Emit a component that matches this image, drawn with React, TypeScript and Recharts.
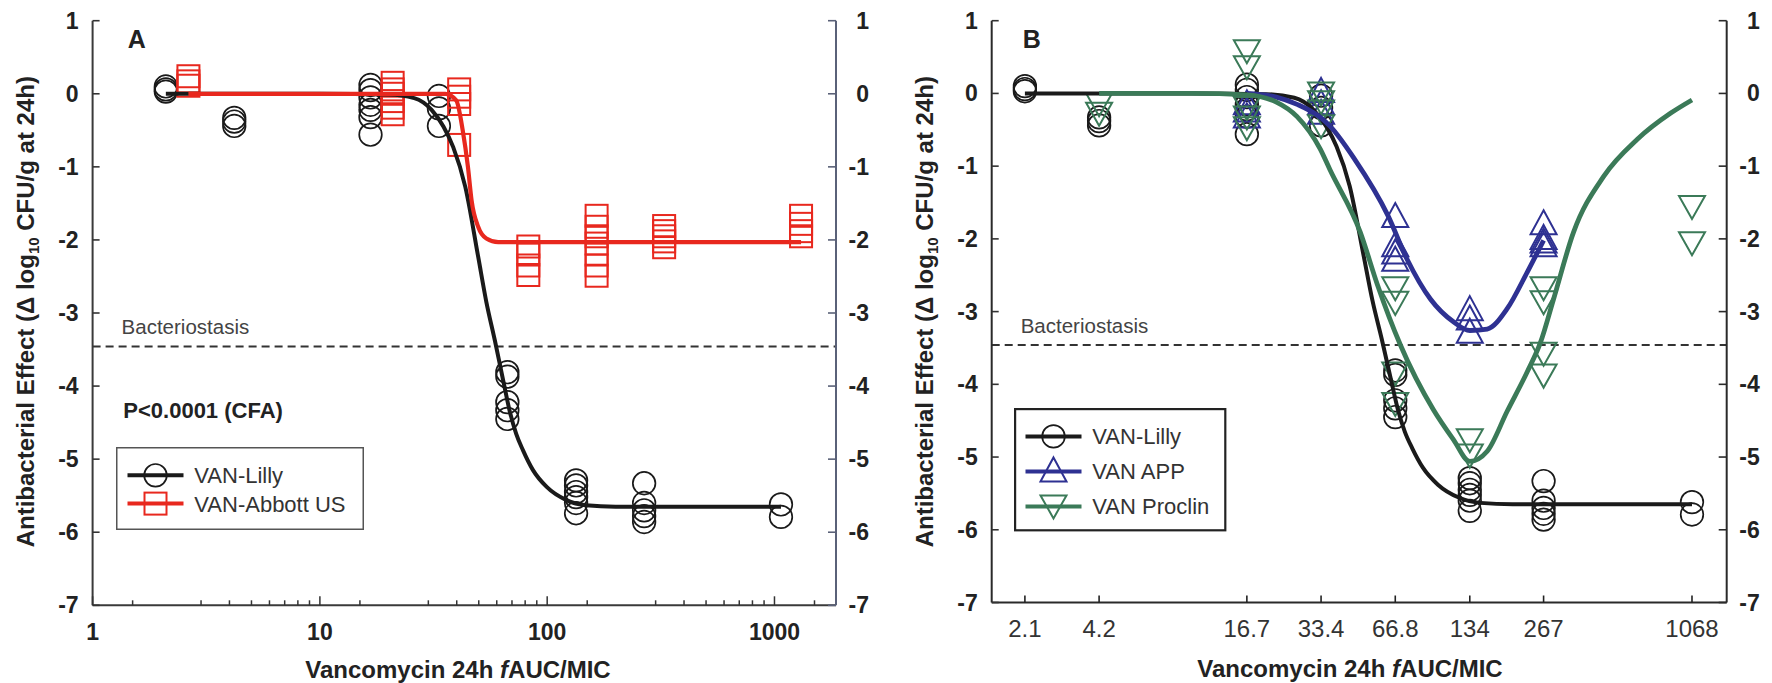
import React from 'react';
import { ComposedChart, Scatter, XAxis, YAxis, ReferenceLine, Legend } from 'recharts';

const FONT = '"Liberation Sans", Arial, Helvetica, sans-serif';

// ---------- Panel A data ----------
const lillyDoses = [2.1, 4.2, 16.7, 33.4, 66.8, 134, 267, 1068];
const lillyEffects = [
  [0.1, 0.06, 0.03],
  [-0.33, -0.38, -0.44],
  [0.12, 0.05, -0.05, -0.15, -0.22, -0.32, -0.56],
  [-0.03, -0.2, -0.44],
  [-3.81, -3.87, -4.22, -4.33, -4.45],
  [-5.29, -5.36, -5.45, -5.52, -5.6, -5.74],
  [-5.33, -5.6, -5.7, -5.78, -5.86],
  [-5.62, -5.79],
];
const abbottDoses = [2.64, 20.9, 41, 82.6, 165, 327, 1309];
const abbottEffects = [
  [0.24, 0.17, 0.11],
  [0.15, 0.06, 0.0, -0.1, -0.19, -0.28],
  [0.06, -0.04, -0.14, -0.7],
  [-2.09, -2.2, -2.35, -2.48],
  [-1.67, -1.82, -1.95, -2.05, -2.2, -2.35, -2.49],
  [-1.81, -1.88, -1.95, -2.02, -2.1],
  [-1.67, -1.78, -1.88, -1.95],
];
const lillyFitX = [2.1, 10, 20, 26, 31, 35, 38.6, 43.6, 49.7, 54, 58.9, 64, 68.5, 73, 78.3, 86.6, 99.5, 121.5, 148, 200, 400, 1068];
const lillyFitY = [0, 0, -0.01, -0.06, -0.22, -0.45, -0.73, -1.27, -2.23, -2.85, -3.38, -3.92, -4.35, -4.65, -4.88, -5.15, -5.38, -5.56, -5.63, -5.65, -5.65, -5.65];
const abbottFitX = [2.64, 20, 35.6, 39.8, 42.5, 44.8, 46.5, 49.7, 54, 60.9, 100, 1309];
const abbottFitY = [0, 0, 0, -0.09, -0.5, -1.0, -1.46, -1.82, -1.98, -2.03, -2.03, -2.03];

// ---------- Panel B data ----------
const appDoses = [16.7, 33.4, 66.8, 134, 267];
const appEffects = [
  [-0.15, -0.25, -0.33],
  [0.02, -0.15, -0.28],
  [-1.7, -2.1, -2.2, -2.3],
  [-2.98, -3.11, -3.29],
  [-1.8, -2.0, -2.05, -2.1],
];
const proclinDoses = [4.2, 16.7, 33.4, 66.8, 134, 267, 1068];
const proclinEffects = [
  [-0.15, -0.28],
  [0.58, 0.36, -0.2, -0.33, -0.48],
  [0.0, -0.12, -0.25, -0.45],
  [-2.68, -2.88, -3.85, -4.27],
  [-4.77, -4.98],
  [-2.68, -2.87, -3.58, -3.88],
  [-1.56, -2.06],
];
const appFitX = [16.7, 22, 26.7, 33.2, 36.3, 45.6, 62.4, 74.6, 92.9, 115, 134, 157.7, 190, 229, 267];
const appFitY = [0, -0.05, -0.15, -0.33, -0.45, -0.9, -1.68, -2.28, -2.83, -3.14, -3.26, -3.24, -2.96, -2.46, -2.02];
const proclinFitX = [4.2, 10, 16.7, 22, 26.7, 33.2, 36.3, 48.2, 56.4, 70.1, 95.4, 115, 134, 157.7, 190, 229, 259.6, 293, 353, 468, 641, 876, 1068];
const proclinFitY = [0, 0, -0.02, -0.12, -0.32, -0.77, -1.05, -1.91, -2.62, -3.46, -4.35, -4.76, -5.06, -4.92, -4.37, -3.83, -3.42, -2.83, -1.91, -1.14, -0.63, -0.27, -0.09];

// ---------- axes ----------
const yTicks = [1, 0, -1, -2, -3, -4, -5, -6, -7];
const xMajorTicksA = [1, 10, 100, 1000];
const xMinorTicksA = [1.5, 3, 4, 5, 6, 7, 8, 9, 15, 30, 40, 50, 60, 70, 80, 90, 150, 300, 400, 500, 600, 700, 800, 900, 1500];
const xTicksB = [2.1, 4.2, 16.7, 33.4, 66.8, 134, 267, 1068];
const bacteriostasis = -3.46;

// ---------- colors ----------
const BLACK = '#1a1a1a';
const RED = '#e8281e';
const BLUE = '#2e3192';
const GREEN = '#3b7a58';

const toPoints = (doses: number[], effects: number[][]) =>
  doses.flatMap((d, i) => effects[i].map((y) => ({ x: d, y })));
const toCurve = (xs: number[], ys: number[]) => xs.map((x, i) => ({ x, y: ys[i] }));

const lillyPts = toPoints(lillyDoses, lillyEffects);
const abbottPts = toPoints(abbottDoses, abbottEffects);
const appPts = toPoints(appDoses, appEffects);
const proclinPts = toPoints(proclinDoses, proclinEffects);
const lillyFit = toCurve(lillyFitX, lillyFitY);
const abbottFit = toCurve(abbottFitX, abbottFitY);
const appFit = toCurve(appFitX, appFitY);
const proclinFit = toCurve(proclinFitX, proclinFitY);

// ---------- marker shapes ----------
const circleAt = (cx: number, cy: number, c: string) => (
  <circle cx={cx} cy={cy} r={11.3} fill="none" stroke={c} strokeWidth={1.7} />
);
const squareAt = (cx: number, cy: number, c: string) => (
  <rect x={cx - 11} y={cy - 11} width={22} height={22} fill="none" stroke={c} strokeWidth={2} />
);
const triUpAt = (cx: number, cy: number, c: string) => (
  <path d={`M${cx},${cy - 14} L${cx + 13},${cy + 10} L${cx - 13},${cy + 10} Z`} fill="none" stroke={c} strokeWidth={2} />
);
const triDownAt = (cx: number, cy: number, c: string) => (
  <path d={`M${cx - 13},${cy - 11} L${cx + 13},${cy - 11} L${cx},${cy + 12} Z`} fill="none" stroke={c} strokeWidth={2} />
);
const mk = (fn: (cx: number, cy: number, c: string) => React.ReactElement, c: string) => (p: any) => fn(p.cx, p.cy, c);
const NoShape = () => <g />;

// ---------- ticks ----------
const YTickLeft = (p: any) => (
  <g>
    <line x1={p.x} x2={p.x + 7} y1={p.y} y2={p.y} stroke="#333" strokeWidth={1.6} />
    <text x={p.x - 14} y={p.y + 8} textAnchor="end" fontSize={23} fontWeight="bold" fill="#222" fontFamily={FONT}>
      {p.payload.value}
    </text>
  </g>
);
const makeYTickRight = (stroke: string) => (p: any) => (
  <g>
    <line x1={p.x} x2={p.x - 8} y1={p.y} y2={p.y} stroke={stroke} strokeWidth={1.6} />
    <text x={p.x + 33} y={p.y + 8} textAnchor="end" fontSize={23} fontWeight="bold" fill="#222" fontFamily={FONT}>
      {p.payload.value}
    </text>
  </g>
);
const XTickA = (p: any) => {
  const v = p.payload.value;
  const major = xMajorTicksA.includes(v);
  return (
    <g>
      <line x1={p.x} x2={p.x} y1={p.y} y2={p.y - (major ? 9 : 5)} stroke="#333" strokeWidth={1.5} />
      {major && (
        <text x={p.x} y={p.y + 35} textAnchor="middle" fontSize={23} fontWeight="bold" fill="#222" fontFamily={FONT}>
          {v}
        </text>
      )}
    </g>
  );
};
const XTickB = (p: any) => (
  <g>
    <line x1={p.x} x2={p.x} y1={p.y} y2={p.y - 7} stroke="#222" strokeWidth={1.6} />
    <text x={p.x} y={p.y + 34} textAnchor="middle" fontSize={24} fill="#333" fontFamily={FONT}>
      {String(p.payload.value)}
    </text>
  </g>
);

// ---------- labels ----------
const yTitle = (x: number, cy: number) => (
  <text
    x={x}
    y={cy}
    transform={`rotate(-90, ${x}, ${cy})`}
    textAnchor="middle"
    fontSize={24}
    fontWeight="bold"
    fill="#222"
    fontFamily={FONT}
  >
    Antibacterial Effect (Δ log
    <tspan fontSize={15} dy={5}>10</tspan>
    <tspan dy={-5}> CFU/g at 24h)</tspan>
  </text>
);
const xTitle = (cx: number, y: number) => (
  <text x={cx} y={y} textAnchor="middle" fontSize={24} fontWeight="bold" fill="#222" fontFamily={FONT}>
    Vancomycin 24h <tspan fontStyle="italic">f</tspan>AUC/MIC
  </text>
);
const YLabelA = () => (
  <g>
    {yTitle(34, 311.7)}
    <text x={127.7} y={48.3} fontSize={25} fontWeight="bold" fill="#222" fontFamily={FONT}>A</text>
    <text x={123.3} y={418.3} fontSize={22} fontWeight="bold" fill="#222" fontFamily={FONT}>P&lt;0.0001 (CFA)</text>
  </g>
);
const YLabelB = () => (
  <g>
    {yTitle(53, 311.7)}
    <text x={142.7} y={48.3} fontSize={25} fontWeight="bold" fill="#222" fontFamily={FONT}>B</text>
  </g>
);
const XLabelA = () => xTitle(458, 678);
const XLabelB = () => xTitle(470, 677);
const BacterioLabel = (p: any) => {
  const vb = p.viewBox || { x: 0, y: 0 };
  return (
    <text x={vb.x + 29} y={vb.y - 12.5} fontSize={20.5} fill="#444" fontFamily={FONT}>
      Bacteriostasis
    </text>
  );
};

// ---------- legend ----------
type Item = { label: string; color: string; shape: (cx: number, cy: number, c: string) => React.ReactElement };
const legendA: Item[] = [
  { label: 'VAN-Lilly', color: BLACK, shape: circleAt },
  { label: 'VAN-Abbott US', color: RED, shape: squareAt },
];
const legendB: Item[] = [
  { label: 'VAN-Lilly', color: BLACK, shape: circleAt },
  { label: 'VAN APP', color: BLUE, shape: triUpAt },
  { label: 'VAN Proclin', color: GREEN, shape: triDownAt },
];
const LegendBox = ({ items, w, h, rows, border, bw }: { items: Item[]; w: number; h: number; rows: number[]; border: string; bw: number }) => (
  <svg width={w} height={h} style={{ display: 'block' }}>
    <rect x={bw / 2} y={bw / 2} width={w - bw} height={h - bw} fill="#fff" stroke={border} strokeWidth={bw} />
    {items.map((it, i) => (
      <g key={it.label}>
        <line x1={11.5} x2={67.5} y1={rows[i]} y2={rows[i]} stroke={it.color} strokeWidth={4} />
        {it.shape(39.5, rows[i], it.color)}
        <text x={78.3} y={rows[i] + 8} fontSize={22} fill="#333" fontFamily={FONT}>
          {it.label}
        </text>
      </g>
    ))}
  </svg>
);

const axisA = { stroke: '#3a3a3a', strokeWidth: 2 };
const axisARight = { stroke: '#5a6178', strokeWidth: 2 };
const axisB = { stroke: '#2a2a2a', strokeWidth: 2 };

const PanelA = () => (
  <ComposedChart width={880} height={683} margin={{ top: 20.7, right: 4, bottom: 37.7, left: 32.6 }}>
    <XAxis
      dataKey="x"
      type="number"
      scale="log"
      domain={[1, 1865]}
      allowDataOverflow
      ticks={[...xMajorTicksA, ...xMinorTicksA]}
      interval={0}
      tick={<XTickA />}
      tickLine={false}
      tickSize={0}
      tickMargin={0}
      height={40}
      axisLine={axisA}
      label={{ content: XLabelA }}
    />
    <YAxis
      yAxisId="l"
      dataKey="y"
      type="number"
      domain={[-7, 1]}
      allowDataOverflow
      ticks={yTicks}
      interval={0}
      tick={<YTickLeft />}
      tickLine={false}
      tickSize={0}
      tickMargin={0}
      width={60}
      axisLine={axisA}
      label={{ content: YLabelA }}
    />
    <YAxis
      yAxisId="r"
      orientation="right"
      type="number"
      domain={[-7, 1]}
      allowDataOverflow
      ticks={yTicks}
      interval={0}
      tick={makeYTickRight('#5a6178')}
      tickLine={false}
      tickSize={0}
      tickMargin={0}
      width={40}
      axisLine={axisARight}
    />
    <ReferenceLine yAxisId="l" y={bacteriostasis} stroke="#333" strokeWidth={2} strokeDasharray="8 5" label={{ content: BacterioLabel }} />
    <Scatter yAxisId="l" data={lillyPts} shape={mk(circleAt, BLACK)} isAnimationActive={false} legendType="none" />
    <Scatter yAxisId="l" data={abbottPts} shape={mk(squareAt, RED)} isAnimationActive={false} legendType="none" />
    <Scatter yAxisId="l" data={lillyFit} shape={NoShape} line={{ stroke: BLACK, strokeWidth: 4 }} lineJointType="monotoneX" isAnimationActive={false} legendType="none" />
    <Scatter yAxisId="l" data={abbottFit} shape={NoShape} line={{ stroke: RED, strokeWidth: 4.2 }} lineJointType="monotoneX" isAnimationActive={false} legendType="none" />
    <Legend
      layout="vertical"
      align="center"
      verticalAlign="middle"
      wrapperStyle={{ position: 'absolute', left: 116, top: 446.7, width: 248, height: 83 }}
      content={() => <LegendBox items={legendA} w={248} h={83} rows={[28.3, 56.6]} border="#555" bw={1.5} />}
    />
  </ComposedChart>
);

const PanelB = () => (
  <ComposedChart width={892} height={683} margin={{ top: 20.7, right: 5.3, bottom: 40.5, left: 51.7 }}>
    <XAxis
      dataKey="x"
      type="number"
      scale="log"
      domain={[1.54, 1477]}
      allowDataOverflow
      ticks={xTicksB}
      interval={0}
      tick={<XTickB />}
      tickLine={false}
      tickSize={0}
      tickMargin={0}
      height={40}
      axisLine={axisB}
      label={{ content: XLabelB }}
    />
    <YAxis
      yAxisId="l"
      dataKey="y"
      type="number"
      domain={[-7, 1]}
      allowDataOverflow
      ticks={yTicks}
      interval={0}
      tick={<YTickLeft />}
      tickLine={false}
      tickSize={0}
      tickMargin={0}
      width={60}
      axisLine={axisB}
      label={{ content: YLabelB }}
    />
    <YAxis
      yAxisId="r"
      orientation="right"
      type="number"
      domain={[-7, 1]}
      allowDataOverflow
      ticks={yTicks}
      interval={0}
      tick={makeYTickRight('#2a2a2a')}
      tickLine={false}
      tickSize={0}
      tickMargin={0}
      width={40}
      axisLine={axisB}
    />
    <ReferenceLine yAxisId="l" y={bacteriostasis} stroke="#333" strokeWidth={2} strokeDasharray="8 5" label={{ content: BacterioLabel }} />
    <Scatter yAxisId="l" data={lillyPts} shape={mk(circleAt, BLACK)} isAnimationActive={false} legendType="none" />
    <Scatter yAxisId="l" data={appPts} shape={mk(triUpAt, BLUE)} isAnimationActive={false} legendType="none" />
    <Scatter yAxisId="l" data={proclinPts} shape={mk(triDownAt, GREEN)} isAnimationActive={false} legendType="none" />
    <Scatter yAxisId="l" data={lillyFit} shape={NoShape} line={{ stroke: BLACK, strokeWidth: 4 }} lineJointType="monotoneX" isAnimationActive={false} legendType="none" />
    <Scatter yAxisId="l" data={appFit} shape={NoShape} line={{ stroke: BLUE, strokeWidth: 4.8 }} lineJointType="monotoneX" isAnimationActive={false} legendType="none" />
    <Scatter yAxisId="l" data={proclinFit} shape={NoShape} line={{ stroke: GREEN, strokeWidth: 4.8 }} lineJointType="monotoneX" isAnimationActive={false} legendType="none" />
    <Legend
      layout="vertical"
      align="center"
      verticalAlign="middle"
      wrapperStyle={{ position: 'absolute', left: 134.3, top: 408.3, width: 212.4, height: 123.4 }}
      content={() => <LegendBox items={legendB} w={212.4} h={123.4} rows={[28.4, 63.4, 98.4]} border="#222" bw={2.2} />}
    />
  </ComposedChart>
);

export default function App() {
  return (
    <div style={{ position: 'absolute', left: 0, top: 0, width: 1772, height: 683, background: '#fff', overflow: 'hidden' }}>
      <div style={{ position: 'absolute', left: 0, top: 0, width: 880, height: 683 }}>
        <PanelA />
      </div>
      <div style={{ position: 'absolute', left: 880, top: 0, width: 892, height: 683 }}>
        <PanelB />
      </div>
    </div>
  );
}
